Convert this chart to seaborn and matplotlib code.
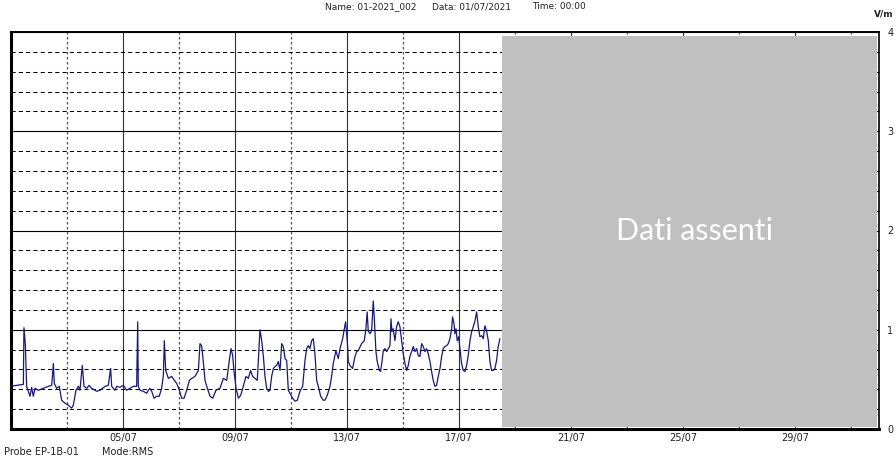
import pandas as pd
import seaborn as sns
import matplotlib.pyplot as plt
import matplotlib.dates as mdates
from matplotlib.ticker import MultipleLocator

# Field strength (V/m), hours since 01/07/2021 00:00
hours = [0, 5, 10.6, 11.1, 12.3, 13.4, 16.3, 17.7, 19.1, 20.6, 23.4, 27.7, 32, 34.9, 36.3, 37.1,
         39.1, 41.4, 43.4, 46.3, 49.1, 52, 53.4, 55.7, 57.7, 59.1, 61.1, 62.6, 64.9, 66.9, 69.1,
         73.4, 76.3, 80.6, 83.4, 85.4, 86.3, 89.1, 90.6, 93.4, 96.3, 99.1, 102, 104.9, 107.7,
         108.6, 109.1, 110.6, 113.4, 116.3, 117.7, 119.1, 120.6, 122.6, 124.9, 127.1, 129.1,
         130.6, 131.4, 132.6, 134.9, 137.7, 140, 142, 144.3, 146.3, 148.3, 150.6, 152.9, 154.9,
         157.7, 160.6, 162, 163.4, 164.3, 166.3, 168.3, 170.6, 172.9, 175.7, 179.1, 182, 184.9,
         187.1, 188.6, 190, 191.1, 192.9, 194.9, 196.9, 199.1, 201.4, 203.4, 205.4, 207.1, 209.1,
         211.1, 212.9, 213.4, 214.9, 216.3, 217.7, 219.1, 220.6, 222, 223.4, 224.9, 226.3, 227.7,
         229.1, 230.6, 232, 233.4, 234.9, 236.3, 237.7, 239.1, 241.4, 243.4, 245.4, 247.7, 250,
         252, 253.4, 254.8, 256.2, 257.7, 259.1, 260.5, 262, 263.4, 265.4, 267.7, 269.1, 271.1,
         273.4, 274.8, 276.2, 278.5, 280.5, 282, 284.3, 285.7, 286.8, 287.7, 288.5, 289.1, 290.5,
         292.8, 294.8, 296.3, 297.7, 300.5, 302.8, 304.2, 305.3, 306.2, 307.7, 309.1, 310.5,
         311.2, 312, 312.8, 313.9, 315.7, 316.8, 318, 319.1, 320.5, 322, 323.4, 324.8, 325.7,
         326.5, 327.6, 329.1, 330.5, 331.9, 333.4, 334.8, 336.2, 337.7, 339.1, 340.5, 341.9,
         343.4, 344.8, 346.2, 347.7, 349.1, 350.5, 352, 353.4, 354.8, 356.2, 357.6, 359.1, 360.5,
         361.9, 363.4, 364.8, 366.2, 367.7, 369.1, 370.5, 371.9, 373.4, 374.8, 376.2, 377.7,
         378.5, 379.7, 380.5, 381.4, 382.5, 383.7, 384.8, 386.2, 387.6, 389.1, 390.5, 391.9,
         393.4, 394.8, 396.2, 397.7, 399.1, 400.5, 401.9, 403.4, 404.8, 406.2, 407.6, 409.1,
         410.5, 411.9, 413.3, 414.8, 416.2, 417.6, 419.1]
values = [0.43, 0.44, 0.45, 1.02, 0.85, 0.43, 0.33, 0.42, 0.33, 0.41, 0.39, 0.41, 0.43, 0.44, 0.66, 0.46,
          0.41, 0.43, 0.29, 0.26, 0.24, 0.21, 0.24, 0.39, 0.43, 0.39, 0.64, 0.43, 0.41, 0.44, 0.41,
          0.38, 0.39, 0.43, 0.44, 0.61, 0.43, 0.39, 0.43, 0.42, 0.44, 0.39, 0.41, 0.43, 0.43,
          1.08, 0.43, 0.39, 0.38, 0.36, 0.39, 0.41, 0.38, 0.31, 0.33, 0.33, 0.41,
          0.54, 0.89, 0.59, 0.51, 0.53, 0.49, 0.46, 0.39, 0.31, 0.31, 0.39, 0.49, 0.51,
          0.53, 0.59, 0.86, 0.84, 0.74, 0.49, 0.41, 0.33, 0.31, 0.39, 0.41, 0.51, 0.49,
          0.69, 0.81, 0.74, 0.59, 0.41, 0.31, 0.34, 0.43, 0.53, 0.51, 0.59, 0.53, 0.51,
          0.49, 0.89, 1.0, 0.89, 0.73, 0.53, 0.41, 0.38, 0.39, 0.53, 0.61, 0.63, 0.64,
          0.68, 0.59, 0.86, 0.83, 0.71, 0.69, 0.39, 0.36, 0.31, 0.28, 0.29, 0.38, 0.43,
          0.69, 0.81, 0.84, 0.81, 0.89, 0.91, 0.76, 0.49, 0.43, 0.33, 0.29, 0.29, 0.34,
          0.43, 0.53, 0.66, 0.79, 0.71, 0.81, 0.91, 1.01, 1.08, 0.96, 0.84, 0.68, 0.64,
          0.61, 0.73, 0.78, 0.79, 0.86, 0.89, 1.01, 1.18, 0.99, 0.96, 0.99, 1.29,
          1.16, 0.96, 0.78, 0.68, 0.59, 0.58, 0.68, 0.79, 0.81, 0.78, 0.81, 0.84, 1.11,
          0.98, 1.01, 0.89, 1.03, 1.08, 1.03, 0.89, 0.76, 0.66, 0.59, 0.64, 0.73,
          0.78, 0.83, 0.78, 0.81, 0.74, 0.73, 0.86, 0.83, 0.78, 0.81, 0.76, 0.68, 0.58,
          0.49, 0.43, 0.44, 0.53, 0.61, 0.73, 0.81, 0.83, 0.84, 0.86, 0.91, 1.01,
          1.13, 1.06, 0.96, 1.01, 0.89, 0.93, 0.81, 0.66, 0.59, 0.58, 0.64, 0.74,
          0.89, 0.98, 1.03, 1.09, 1.18, 1.03, 0.93, 0.94, 0.91, 1.04, 0.99, 0.89,
          0.68, 0.59, 0.59, 0.61, 0.69, 0.83, 0.91]

start = pd.Timestamp('2021-07-01')
end = pd.Timestamp('2021-08-01')
missing_from = pd.Timestamp('2021-07-18 12:30')
missing_to = pd.Timestamp('2021-07-31 22:00')

df = pd.DataFrame({'time': start + pd.to_timedelta(hours, unit='h'), 'value': values})

sns.set_style('white')
plt.rcParams['font.family'] = ['DejaVu Sans']

fig = plt.figure(figsize=(8.96, 4.59), dpi=100)
ax = fig.add_axes([11 / 896, 1 - 429 / 459, 868 / 896, 397 / 459])

sns.lineplot(data=df, x='time', y='value', color='#16168c', linewidth=0.9, ax=ax, zorder=3)

ax.set_xlim(start, end)
ax.set_ylim(0, 4)

# x axis: labels every 4 days, dashed lines in between
ax.xaxis.set_major_locator(mdates.DayLocator(bymonthday=[5, 9, 13, 17, 21, 25, 29]))
ax.xaxis.set_minor_locator(mdates.DayLocator(bymonthday=[3, 7, 11, 15, 19, 23, 27, 31]))
ax.xaxis.set_major_formatter(mdates.DateFormatter('%d/%m'))
ax.tick_params(axis='x', which='both', length=0, labelsize=7, pad=3, colors='#222222')

# y axis on the right
ax.yaxis.tick_right()
ax.yaxis.set_major_locator(MultipleLocator(1))
ax.yaxis.set_minor_locator(MultipleLocator(0.2))
ax.tick_params(axis='y', which='both', direction='in', length=3, width=0.8, labelsize=7,
               pad=6, colors='#222222')
ax.set_xlabel('')
ax.set_ylabel('')

ax.set_axisbelow(True)
ax.xaxis.grid(True, which='major', color='#333333', linewidth=0.8, linestyle='-')
ax.xaxis.grid(True, which='minor', color='#555555', linewidth=0.9, linestyle=(0, (2, 2)))
ax.yaxis.grid(True, which='major', color='black', linewidth=0.8, linestyle='-')
ax.yaxis.grid(True, which='minor', color='black', linewidth=0.75, linestyle=(0, (4, 3)))

for side, lw in [('left', 2.2), ('bottom', 2.2), ('top', 1.4), ('right', 1.2)]:
    ax.spines[side].set_visible(True)
    ax.spines[side].set_color('black')
    ax.spines[side].set_linewidth(lw)

# no-data block
ax.axvspan(missing_from, missing_to, ymin=0.006, ymax=0.99, color='#c0c0c0', zorder=4, lw=0)
ax.text(0.787, 0.5, 'Dati assenti', transform=ax.transAxes, color='white',
        fontsize=22, family=['Lato', 'DejaVu Sans'], ha='center', va='center', zorder=5)

# header and footer
fig.text(325 / 896, 1 - 9 / 459, 'Name: 01-2021_002', fontsize=6.5, va='baseline', color='#222222')
fig.text(432 / 896, 1 - 9 / 459, 'Data: 01/07/2021', fontsize=6.5, va='baseline', color='#222222')
fig.text(532 / 896, 1 - 9 / 459, 'Time: 00:00', fontsize=6.5, va='baseline', color='#222222')
fig.text(874 / 896, 1 - 14 / 459, 'V/m', fontsize=6.5, fontweight='bold', va='center', color='#222222')
fig.text(4 / 896, 1 - 452 / 459, 'Probe EP-1B-01', fontsize=7, va='center', color='#222222')
fig.text(102 / 896, 1 - 452 / 459, 'Mode:RMS', fontsize=7, va='center', color='#222222')

fig.savefig('out.png', dpi=100)
